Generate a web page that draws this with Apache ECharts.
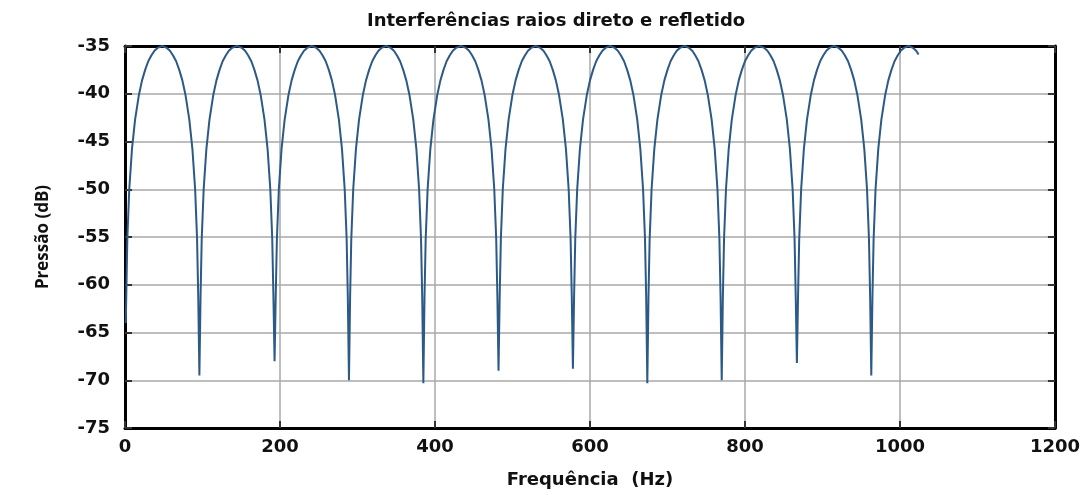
<!DOCTYPE html>
<html>
<head>
<meta charset="utf-8">
<title>Interferências raios direto e refletido</title>
<script src="https://cdn.jsdelivr.net/npm/echarts@6/dist/echarts.min.js"></script>
<style>
  html, body { margin: 0; padding: 0; background: #ffffff; }
  #chart { width: 1083px; height: 495px; }
</style>
</head>
<body>
<div id="chart"></div>
<script>
// Frequency samples (Hz), one line per interference lobe
const freqHz = [
  1, 3, 5.5, 9, 13, 18, 22, 26, 30, 34, 38, 42, 48, 54, 58, 62, 66, 70, 74, 78, 83, 87, 90.5, 93, 94.5, 96,
  97.5, 99, 101.5, 105, 109, 114, 118, 122, 126, 130, 134, 138, 144.5, 151, 155, 159, 163, 167, 171, 175, 180, 184, 187.5, 190, 191.5, 193,
  194.5, 196, 198.5, 202, 206, 211, 215, 219, 223, 227, 231, 235, 241, 247, 251, 255, 259, 263, 267, 271, 276, 280, 283.5, 286, 287.5, 289,
  290.5, 292, 294.5, 298, 302, 307, 311, 315, 319, 323, 327, 331, 337, 343, 347, 351, 355, 359, 363, 367, 372, 376, 379.5, 382, 383.5, 385,
  386.5, 388, 390.5, 394, 398, 403, 407, 411, 415, 419, 423, 427, 433.5, 440, 444, 448, 452, 456, 460, 464, 469, 473, 476.5, 479, 480.5, 482,
  483.5, 485, 487.5, 491, 495, 500, 504, 508, 512, 516, 520, 524, 530, 536, 540, 544, 548, 552, 556, 560, 565, 569, 572.5, 575, 576.5, 578,
  579.5, 581, 583.5, 587, 591, 596, 600, 604, 608, 612, 616, 620, 626, 632, 636, 640, 644, 648, 652, 656, 661, 665, 668.5, 671, 672.5, 674,
  675.5, 677, 679.5, 683, 687, 692, 696, 700, 704, 708, 712, 716, 722, 728, 732, 736, 740, 744, 748, 752, 757, 761, 764.5, 767, 768.5, 770,
  771.5, 773, 775.5, 779, 783, 788, 792, 796, 800, 804, 808, 812, 818.5, 825, 829, 833, 837, 841, 845, 849, 854, 858, 861.5, 864, 865.5, 867,
  868.5, 870, 872.5, 876, 880, 885, 889, 893, 897, 901, 905, 909, 915, 921, 925, 929, 933, 937, 941, 945, 950, 954, 957.5, 960, 961.5, 963,
  964.5, 966, 968.5, 972, 976, 981, 985, 989, 993, 997, 1001, 1005, 1011, 1017, 1021, 1024
];

// Sound pressure level (dB) at each frequency sample
const pressureDb = [
  -64.0, -55.2, -50.0, -45.8, -42.7, -40.1, -38.6, -37.5, -36.6, -36.0, -35.5, -35.2, -35.0, -35.2, -35.5, -36.0, -36.6, -37.5, -38.6, -40.1, -42.7, -45.8, -50.0, -55.2, -61.2, -69.5,
  -61.2, -55.2, -50.0, -45.8, -42.7, -40.1, -38.6, -37.5, -36.6, -36.0, -35.5, -35.2, -35.0, -35.2, -35.5, -36.0, -36.6, -37.5, -38.6, -40.1, -42.7, -45.8, -50.0, -55.2, -61.2, -68.0,
  -61.2, -55.2, -50.0, -45.8, -42.7, -40.1, -38.6, -37.5, -36.6, -36.0, -35.5, -35.2, -35.0, -35.2, -35.5, -36.0, -36.6, -37.5, -38.6, -40.1, -42.7, -45.8, -50.0, -55.2, -61.2, -70.0,
  -61.2, -55.2, -50.0, -45.8, -42.7, -40.1, -38.6, -37.5, -36.6, -36.0, -35.5, -35.2, -35.0, -35.2, -35.5, -36.0, -36.6, -37.5, -38.6, -40.1, -42.7, -45.8, -50.0, -55.2, -61.2, -70.3,
  -61.2, -55.2, -50.0, -45.8, -42.7, -40.1, -38.6, -37.5, -36.6, -36.0, -35.5, -35.2, -35.0, -35.2, -35.5, -36.0, -36.6, -37.5, -38.6, -40.1, -42.7, -45.8, -50.0, -55.2, -61.2, -69.0,
  -61.2, -55.2, -50.0, -45.8, -42.7, -40.1, -38.6, -37.5, -36.6, -36.0, -35.5, -35.2, -35.0, -35.2, -35.5, -36.0, -36.6, -37.5, -38.6, -40.1, -42.7, -45.8, -50.0, -55.2, -61.2, -68.8,
  -61.2, -55.2, -50.0, -45.8, -42.7, -40.1, -38.6, -37.5, -36.6, -36.0, -35.5, -35.2, -35.0, -35.2, -35.5, -36.0, -36.6, -37.5, -38.6, -40.1, -42.7, -45.8, -50.0, -55.2, -61.2, -70.3,
  -61.2, -55.2, -50.0, -45.8, -42.7, -40.1, -38.6, -37.5, -36.6, -36.0, -35.5, -35.2, -35.0, -35.2, -35.5, -36.0, -36.6, -37.5, -38.6, -40.1, -42.7, -45.8, -50.0, -55.2, -61.2, -70.0,
  -61.2, -55.2, -50.0, -45.8, -42.7, -40.1, -38.6, -37.5, -36.6, -36.0, -35.5, -35.2, -35.0, -35.2, -35.5, -36.0, -36.6, -37.5, -38.6, -40.1, -42.7, -45.8, -50.0, -55.2, -61.2, -68.2,
  -61.2, -55.2, -50.0, -45.8, -42.7, -40.1, -38.6, -37.5, -36.6, -36.0, -35.5, -35.2, -35.0, -35.2, -35.5, -36.0, -36.6, -37.5, -38.6, -40.1, -42.7, -45.8, -50.0, -55.2, -61.2, -69.5,
  -61.2, -55.2, -50.0, -45.8, -42.7, -40.1, -38.6, -37.5, -36.6, -36.0, -35.5, -35.2, -35.0, -35.2, -35.5, -35.9
];

// Axis ranges and tick spacing
const xRange = [0, 1200];
const xStep = 200;
const yRange = [-75, -35];
const yStep = 5;

const titleText = 'Interferências raios direto e refletido';
const xName = 'Frequência  (Hz)';
const yName = 'Pressão (dB)';

const wideFont = 'DejaVu Sans';
const gridColor = '#a8a8a8';
const lineColor = '#2b5a87';
const frameLine = { show: true, onZero: false, lineStyle: { color: '#000', width: 3 } };

const chart = echarts.init(document.getElementById('chart'), null, { renderer: 'canvas' });

const points = freqHz.map((f, i) => [f, pressureDb[i]]);

const tickStyle = { show: true, inside: true, length: 7, lineStyle: { color: '#333', width: 2 } };
const labelText = { fontFamily: wideFont, fontWeight: 'bold', fontSize: 18, color: '#111' };

chart.setOption({
  animation: false,
  backgroundColor: '#ffffff',
  title: {
    text: titleText,
    left: 362,
    top: 7,
    textStyle: { fontFamily: wideFont, fontWeight: 'bold', fontSize: 18, color: '#111' }
  },
  grid: { left: 125, right: 25, top: 46, bottom: 67 },
  xAxis: [
    {
      type: 'value',
      min: xRange[0], max: xRange[1], interval: xStep,
      position: 'bottom',
      name: xName,
      nameLocation: 'middle',
      nameGap: 43,
      nameTextStyle: labelText,
      axisLine: frameLine,
      axisTick: tickStyle,
      axisLabel: Object.assign({ margin: 10, formatter: v => String(v) }, labelText),
      splitLine: { show: true, lineStyle: { color: gridColor, width: 1.5 } }
    },
    {
      type: 'value',
      min: xRange[0], max: xRange[1], interval: xStep,
      position: 'top',
      axisLine: frameLine,
      axisTick: tickStyle,
      axisLabel: { show: false },
      splitLine: { show: false }
    }
  ],
  yAxis: [
    {
      type: 'value',
      min: yRange[0], max: yRange[1], interval: yStep,
      position: 'left',
      name: yName,
      nameLocation: 'middle',
      nameGap: 73,
      nameTextStyle: { fontFamily: 'Open Sans', fontWeight: 'bold', fontSize: 17, color: '#111' },
      axisLine: frameLine,
      axisTick: tickStyle,
      axisLabel: Object.assign({ margin: 15 }, labelText),
      splitLine: { show: true, lineStyle: { color: gridColor, width: 1.5 } }
    },
    {
      type: 'value',
      min: yRange[0], max: yRange[1], interval: yStep,
      position: 'right',
      axisLine: frameLine,
      axisTick: tickStyle,
      axisLabel: { show: false },
      splitLine: { show: false }
    }
  ],
  series: [
    {
      type: 'line',
      data: points,
      showSymbol: false,
      smooth: false,
      clip: false,
      lineStyle: { color: lineColor, width: 2 }
    }
  ]
});
</script>
</body>
</html>
